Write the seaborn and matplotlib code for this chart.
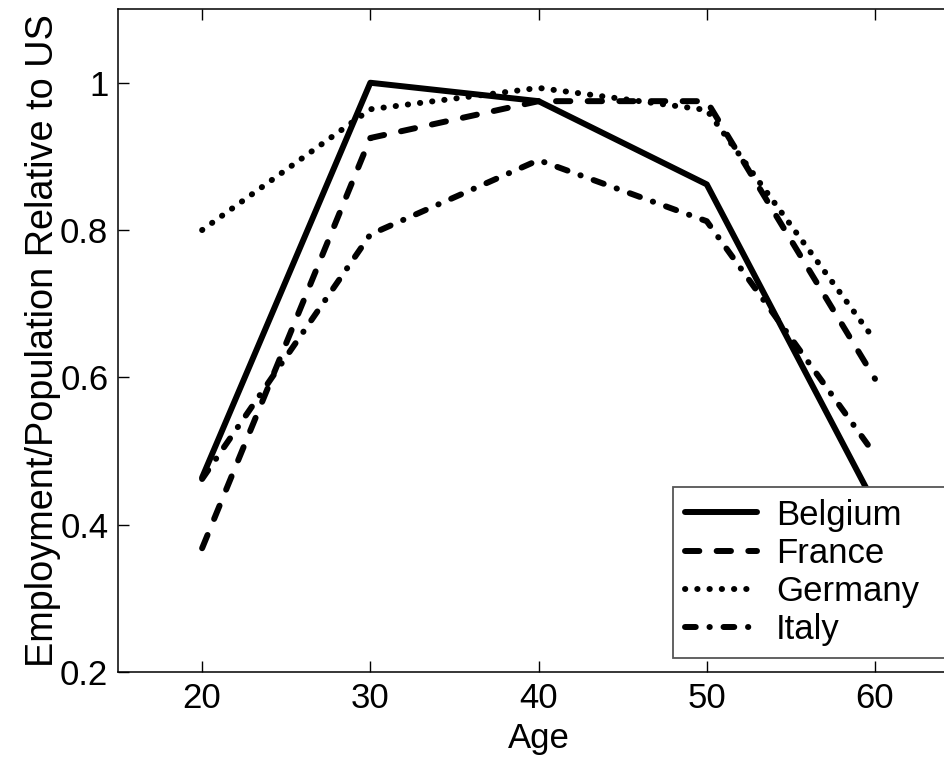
import matplotlib
matplotlib.use("Agg")
import matplotlib.pyplot as plt
import seaborn as sns
import pandas as pd

# Employment-to-population ratios by age, relative to the US
ages = [20, 30, 40, 50, 60]
belgium = [0.464, 1.000, 0.975, 0.862, 0.427]
france = [0.368, 0.925, 0.975, 0.975, 0.598]
germany = [0.800, 0.964, 0.993, 0.963, 0.650]
italy = [0.462, 0.794, 0.895, 0.812, 0.495]
countries = ["Belgium", "France", "Germany", "Italy"]

y_ticks = [0.2, 0.4, 0.6, 0.8, 1.0]
y_tick_labels = ["0.2", "0.4", "0.6", "0.8", "1"]
x_ticks = [20, 30, 40, 50, 60]

sns.set_theme(style="white")
plt.rcParams["font.family"] = ["Liberation Sans", "DejaVu Sans"]
plt.rcParams.update({
    "text.color": "black",
    "axes.labelcolor": "black",
    "xtick.color": "black",
    "ytick.color": "black",
})

FS = 25

fig = plt.figure(figsize=(9.44, 7.58), dpi=100)
ax = fig.add_axes([0.125, 0.1135, 0.891, 0.8745])

styles = {
    "Belgium": "-",
    "France": (0, (2.4, 2.9)),
    "Germany": (0, (0.05, 2.0)),
    "Italy": (0, (1.8, 2.3, 0.05, 2.3)),
}
series = {"Belgium": belgium, "France": france, "Germany": germany, "Italy": italy}

for name in countries:
    df = pd.DataFrame({"Age": ages, "Ratio": series[name]})
    sns.lineplot(data=df, x="Age", y="Ratio", ax=ax, color="black",
                 linewidth=4.3, linestyle=styles[name], label=name,
                 dash_capstyle="round", solid_capstyle="round",
                 solid_joinstyle="round", dash_joinstyle="round")

ax.set_xlim(15, 65)
ax.set_ylim(0.2, 1.1)
ax.set_xticks(x_ticks)
ax.set_yticks(y_ticks)
ax.set_yticklabels(y_tick_labels)
ax.set_xlabel("Age", fontsize=FS, labelpad=5)
ax.set_ylabel("Employment/Population Relative to US", fontsize=27.3, labelpad=-0.5)

ax.tick_params(axis="both", which="both", direction="in", length=8, width=1,
               labelsize=FS, top=True, bottom=True, left=True, right=False)
ax.tick_params(axis="y", pad=7)
ax.tick_params(axis="x", pad=7)
for side in ["left", "bottom", "top", "right"]:
    ax.spines[side].set_color("black")
    ax.spines[side].set_linewidth(1.1)

handles, labels = ax.get_legend_handles_labels()
leg = ax.legend(handles, labels, loc="lower left", mode="expand",
                bbox_to_anchor=(0.66, 0.021, 0.335, 0.3),
                fontsize=FS, frameon=True, fancybox=False, edgecolor="#555555",
                framealpha=1, handlelength=2.07, handletextpad=0.55,
                labelspacing=0.15, borderpad=0.34, borderaxespad=0)
leg.get_frame().set_linewidth(1.3)

fig.savefig("out.png", dpi=100)
